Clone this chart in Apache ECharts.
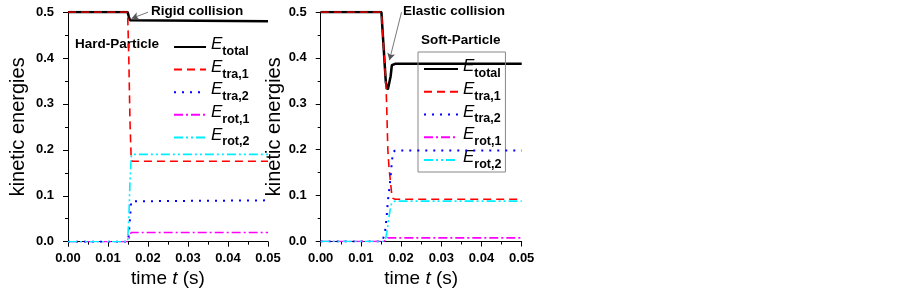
<!DOCTYPE html>
<html>
<head>
<meta charset="utf-8">
<script src="https://cdn.jsdelivr.net/npm/echarts@6/dist/echarts.min.js"></script>
<style>html,body{margin:0;padding:0;background:#fff;}#c{width:903px;height:288px;}</style>
</head>
<body>
<div id="c"></div>
<script>
// ---- data ----
var xTicks = [0, 0.01, 0.02, 0.03, 0.04, 0.05];
var yTicks = [0, 0.1, 0.2, 0.3, 0.4, 0.5];

// Hard-Particle (left panel)
var hardTime  = [0, 0.0149, 0.0152, 0.0155, 0.0158, 0.0160, 0.05];
var hardTotal = [0.5, 0.5, 0.49, 0.482, 0.48, 0.48, 0.48];
var hardTra1  = [0.5, 0.5, 0.40, 0.26, 0.18, 0.175, 0.175];
var hardTra2  = [0, 0, 0.015, 0.05, 0.088, 0.09, 0.09];
var hardRot1  = [0, 0, 0.005, 0.015, 0.02, 0.02, 0.02];
var hardRot2  = [0, 0, 0.05, 0.13, 0.185, 0.19, 0.19];

// Soft-Particle (right panel)
var softTime  = [0, 0.0151, 0.0156, 0.0160, 0.0162, 0.0164, 0.0167, 0.0170, 0.0174, 0.0177, 0.0180, 0.0185, 0.0190, 0.05];
var softTotal = [0.5, 0.5, 0.43, 0.375, 0.347, 0.338, 0.331, 0.329, 0.36, 0.384, 0.386, 0.387, 0.387, 0.387];
var softTra1  = [0.5, 0.5, 0.43, 0.375, 0.347, 0.30, 0.20, 0.16, 0.127, 0.10, 0.094, 0.092, 0.092, 0.092];
var softTra2  = [0, 0, 0.008, 0.021, 0.035, 0.054, 0.087, 0.11, 0.141, 0.174, 0.195, 0.198, 0.198, 0.198];
var softRot1  = [0, 0, 0, 0, 0.003, 0.006, 0.008, 0.008, 0.008, 0.008, 0.008, 0.008, 0.008, 0.008];
var softRot2  = [0, 0, 0, 0, 0.008, 0.018, 0.035, 0.055, 0.075, 0.085, 0.089, 0.088, 0.088, 0.088];

var seriesKeys = ['total', 'tra,1', 'tra,2', 'rot,1', 'rot,2'];
var panelTitles = ['Hard-Particle', 'Soft-Particle'];
var annotations = ['Rigid collision', 'Elastic collision'];
// arrow tails/tips in data coordinates [t, E]
var arrowL = [[0.0200, 0.4995], [0.0159, 0.486]];
var arrowR = [[0.0201, 0.4995], [0.0171, 0.395]];

// ---- styles ----
var FONT = "Arial, 'Liberation Sans', sans-serif";
var styles = [
  {color: '#000000', width: 2.5, type: 'solid'},
  {color: '#ff0000', width: 1.6, type: [8, 5]},
  {color: '#0000ff', width: 2, type: [2, 6]},
  {color: '#ff00ff', width: 1.6, type: [9, 3, 2, 3]},
  {color: '#00eeff', width: 1.6, type: [9, 3, 2, 3, 2, 3]}
];

function zip(t, v) { return t.map(function (x, i) { return [x, v[i]]; }); }

var hardSets = [hardTotal, hardTra1, hardTra2, hardRot1, hardRot2];
var softSets = [softTotal, softTra1, softTra2, softRot1, softRot2];

var series = [];
function addSeries(prefix, idx, time, sets, arrow) {
  sets.forEach(function (vals, k) {
    var s = {
      name: prefix + k,
      type: 'line',
      xAxisIndex: idx, yAxisIndex: idx,
      data: zip(time, vals),
      showSymbol: false, symbol: 'none',
      lineStyle: styles[k],
      itemStyle: {color: styles[k].color},
      z: 2 + k,
      animation: false
    };
    if (k === 0) {
      s.markLine = {
        silent: true, animation: false,
        symbol: ['none', 'arrow'], symbolSize: [6, 7],
        lineStyle: {color: '#555', width: 0.8, type: 'solid'},
        label: {show: false},
        data: [[{coord: arrow[0]}, {coord: arrow[1]}]]
      };
    }
    series.push(s);
  });
}
addSeries('L', 0, hardTime, hardSets, arrowL);
addSeries('R', 1, softTime, softSets, arrowR);

function legendFormatter(name) {
  var k = +name.slice(1);
  return '{e|E}{s|' + seriesKeys[k] + '}';
}
var legendRich = {
  e: {fontFamily: FONT, fontStyle: 'italic', fontSize: 17, color: '#000', lineHeight: 22, verticalAlign: 'top'},
  s: {fontFamily: FONT, fontWeight: 'bold', fontSize: 12.5, color: '#000', lineHeight: 10, verticalAlign: 'bottom'}
};

function xAxis(idx) {
  return {
    type: 'value', gridIndex: idx, min: 0, max: 0.05, interval: 0.01,
    name: 'time {i|t} (s)', nameLocation: 'middle', nameGap: 27,
    nameTextStyle: {fontFamily: FONT, fontSize: 19, color: '#000',
      rich: {i: {fontFamily: FONT, fontSize: 19, fontStyle: 'italic', color: '#000'}}},
    axisLine: {show: true, onZero: false, lineStyle: {color: '#000', width: 1}},
    axisTick: {show: true, length: 5, lineStyle: {color: '#000'}},
    minorTick: {show: true, splitNumber: 2, length: 3, lineStyle: {color: '#000'}},
    splitLine: {show: false},
    axisLabel: {fontFamily: FONT, fontWeight: 'bold', fontSize: 13, color: '#000', margin: 10,
      formatter: function (v) { return v.toFixed(2); }}
  };
}
function yAxis(idx, gap) {
  return {
    type: 'value', gridIndex: idx, min: 0, max: 0.5, interval: 0.1,
    name: 'kinetic energies', nameLocation: 'middle', nameGap: gap,
    nameTextStyle: {fontFamily: FONT, fontSize: 20, color: '#000'},
    axisLine: {show: true, onZero: false, lineStyle: {color: '#000', width: 1}},
    axisTick: {show: true, length: 5, lineStyle: {color: '#000'}},
    minorTick: {show: true, splitNumber: 2, length: 3, lineStyle: {color: '#000'}},
    splitLine: {show: false},
    axisLabel: {fontFamily: FONT, fontWeight: 'bold', fontSize: 13, color: '#000', margin: 14,
      formatter: function (v) { return v.toFixed(1); }}
  };
}

var legendCommon = {
  orient: 'vertical',
  itemHeight: 14,
  formatter: legendFormatter,
  textStyle: {rich: legendRich},
  itemStyle: {opacity: 0, borderWidth: 0},
  selectedMode: false
};

var chart = echarts.init(document.getElementById('c'), null, {renderer: 'canvas'});
chart.setOption({
  animation: false,
  backgroundColor: '#fff',
  grid: [
    {left: 68, top: 12, width: 200, height: 229.7, containLabel: false, outerBoundsMode: 'none'},
    {left: 320.7, top: 12, width: 201, height: 229.5, containLabel: false, outerBoundsMode: 'none'}
  ],
  xAxis: [xAxis(0), xAxis(1)],
  yAxis: [yAxis(0, 40), yAxis(1, 29)],
  legend: [
    Object.assign({}, legendCommon, {
      data: ['L0', 'L1', 'L2', 'L3', 'L4'],
      left: 173, top: 36, padding: 0,
      itemWidth: 32, itemGap: 0.6
    }),
    Object.assign({}, legendCommon, {
      data: ['R0', 'R1', 'R2', 'R3', 'R4'],
      left: 418, top: 52, padding: [6, 4, 1, 5],
      itemWidth: 34, itemGap: 0.75,
      borderColor: '#888', borderWidth: 1
    })
  ],
  graphic: [
    {type: 'text', left: 75, top: 37, style: {text: panelTitles[0], font: 'bold 13.5px ' + FONT, fill: '#000'}},
    {type: 'text', left: 421, top: 33, style: {text: panelTitles[1], font: 'bold 13.5px ' + FONT, fill: '#000'}},
    {type: 'text', left: 151, top: 4, style: {text: annotations[0], font: 'bold 13.5px ' + FONT, fill: '#000'}},
    {type: 'text', left: 403, top: 4, style: {text: annotations[1], font: 'bold 13.5px ' + FONT, fill: '#000'}}
  ],
  series: series
});
</script>
</body>
</html>
